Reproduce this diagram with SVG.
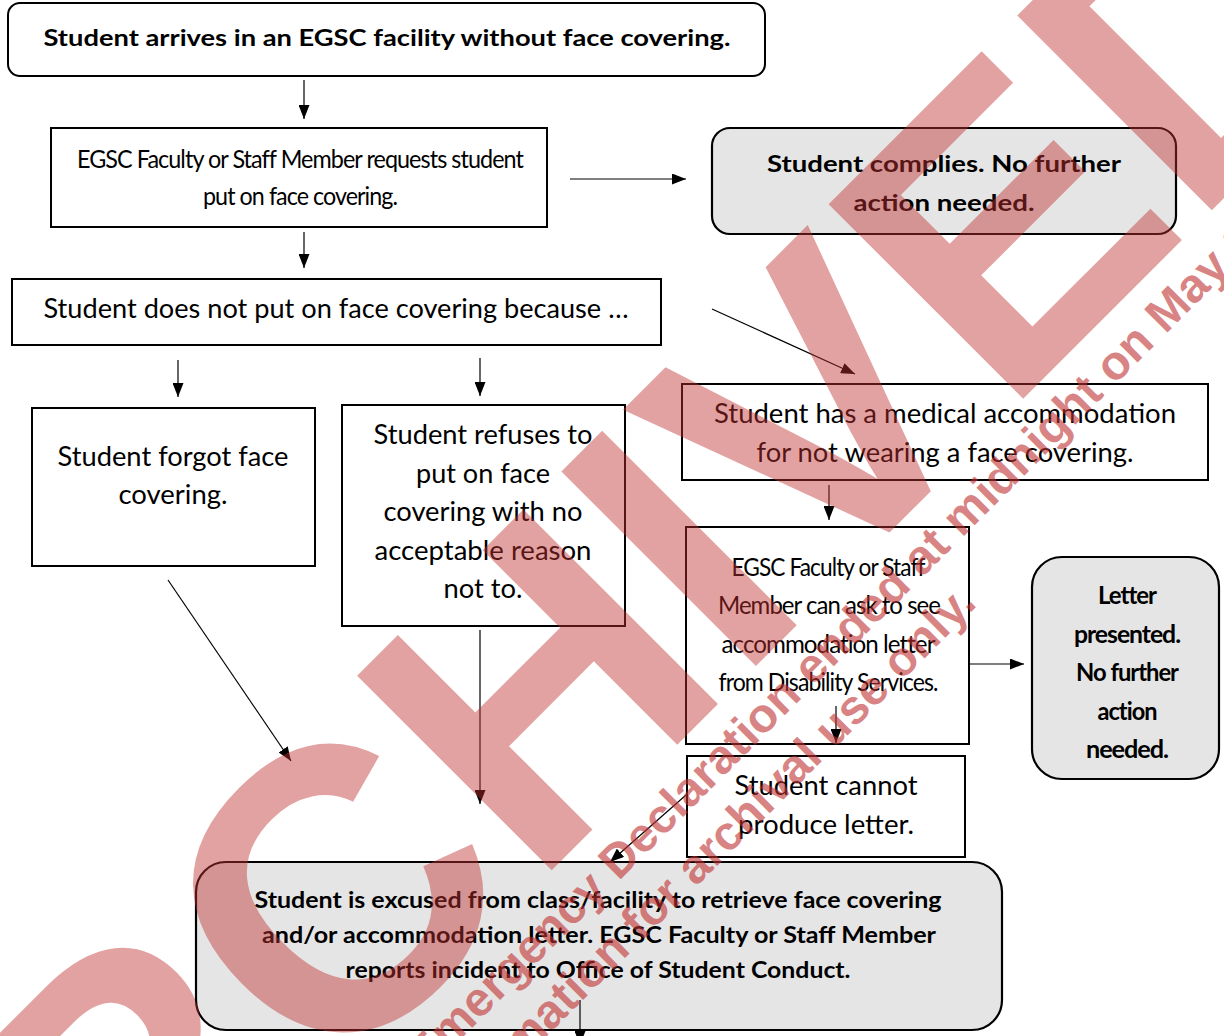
<svg xmlns="http://www.w3.org/2000/svg" width="1224" height="1036" viewBox="0 0 1224 1036">
<style>
.box{fill:#fff;stroke:#000;stroke-width:2}
.gray{fill:#e5e5e5;stroke:#000;stroke-width:2.2}
.t{font-family:Lato,"Liberation Sans",sans-serif;font-size:26px;fill:#000;text-anchor:middle}
.b{font-family:Lato,"Liberation Sans",sans-serif;font-size:23px;font-weight:bold;fill:#000;text-anchor:middle}
.c{font-family:Lato,"Liberation Sans",sans-serif;font-size:25px;fill:#000;text-anchor:middle;letter-spacing:-1px}
.cb{font-family:Lato,"Liberation Sans",sans-serif;font-size:24px;font-weight:bold;fill:#000;text-anchor:middle;letter-spacing:-1px}
.conn line{stroke:#000;stroke-width:1.2;marker-end:url(#ah)}
.wm{font-family:"Liberation Sans",Arial,sans-serif;font-weight:bold;fill:#c03030}
</style>
<defs>
<marker id="ah" viewBox="0 0 14 11" refX="14" refY="5.5" markerWidth="14" markerHeight="11" markerUnits="userSpaceOnUse" orient="auto">
<path d="M0,0 L14,5.5 L0,11 z" fill="#000"/>
</marker>
</defs>
<rect width="1224" height="1036" fill="#fff"/>

<g id="n-arrives">
<rect class="box" x="8" y="3" width="757" height="73" rx="12"/>
<text class="b" x="387" y="46" textLength="687" lengthAdjust="spacingAndGlyphs">Student arrives in an EGSC facility without face covering.</text>
</g>
<g id="n-request">
<rect class="box" x="51" y="128" width="496" height="99"/>
<text class="c" x="300" y="168" textLength="446" lengthAdjust="spacingAndGlyphs">EGSC Faculty or Staff Member requests student</text>
<text class="c" x="300" y="205" textLength="194" lengthAdjust="spacingAndGlyphs">put on face covering.</text>
</g>
<g id="n-complies">
<rect class="gray" x="712" y="128" width="464" height="106" rx="18"/>
<text class="b" x="944" y="172" textLength="354" lengthAdjust="spacingAndGlyphs">Student complies. No further</text>
<text class="b" x="944" y="211" textLength="181" lengthAdjust="spacingAndGlyphs">action needed.</text>
</g>
<g id="n-doesnot">
<rect class="box" x="12" y="279" width="649" height="66"/>
<text class="t" x="336" y="318" textLength="585" lengthAdjust="spacingAndGlyphs">Student does not put on face covering because …</text>
</g>
<g id="n-forgot">
<rect class="box" x="32" y="408" width="283" height="158"/>
<text class="t" x="173" y="466" textLength="231" lengthAdjust="spacingAndGlyphs">Student forgot face</text>
<text class="t" x="173" y="504" textLength="109" lengthAdjust="spacingAndGlyphs">covering.</text>
</g>
<g id="n-refuses">
<rect class="box" x="342" y="405" width="283" height="221"/>
<text class="t" x="483" y="444" textLength="219" lengthAdjust="spacingAndGlyphs">Student refuses to</text>
<text class="t" x="483" y="483" textLength="134" lengthAdjust="spacingAndGlyphs">put on face</text>
<text class="t" x="483" y="521" textLength="199" lengthAdjust="spacingAndGlyphs">covering with no</text>
<text class="t" x="483" y="560" textLength="217" lengthAdjust="spacingAndGlyphs">acceptable reason</text>
<text class="t" x="483" y="598" textLength="79" lengthAdjust="spacingAndGlyphs">not to.</text>
</g>
<g id="n-medical">
<rect class="box" x="682" y="384" width="526" height="96"/>
<text class="t" x="945" y="423" textLength="462" lengthAdjust="spacingAndGlyphs">Student has a medical accommodation</text>
<text class="t" x="945" y="462" textLength="377" lengthAdjust="spacingAndGlyphs">for not wearing a face covering.</text>
</g>
<g id="n-askletter">
<rect class="box" x="686" y="527" width="283" height="217"/>
<text class="c" x="828" y="576" textLength="193" lengthAdjust="spacingAndGlyphs">EGSC Faculty or Staff</text>
<text class="c" x="829" y="614" textLength="222" lengthAdjust="spacingAndGlyphs">Member can ask to see</text>
<text class="c" x="828" y="653" textLength="213" lengthAdjust="spacingAndGlyphs">accommodation letter</text>
<text class="c" x="828" y="691" textLength="219" lengthAdjust="spacingAndGlyphs">from Disability Services.</text>
</g>
<g id="n-presented">
<rect class="gray" x="1032" y="557" width="187" height="222" rx="30"/>
<text class="cb" x="1127" y="604" textLength="58" lengthAdjust="spacingAndGlyphs">Letter</text>
<text class="cb" x="1127" y="643" textLength="106" lengthAdjust="spacingAndGlyphs">presented.</text>
<text class="cb" x="1127" y="681" textLength="102" lengthAdjust="spacingAndGlyphs">No further</text>
<text class="cb" x="1127" y="720" textLength="59" lengthAdjust="spacingAndGlyphs">action</text>
<text class="cb" x="1127" y="758" textLength="82" lengthAdjust="spacingAndGlyphs">needed.</text>
</g>
<g id="n-cannot">
<rect class="box" x="687" y="756" width="278" height="101"/>
<text class="t" x="826" y="795" textLength="183" lengthAdjust="spacingAndGlyphs">Student cannot</text>
<text class="t" x="826" y="834" textLength="176" lengthAdjust="spacingAndGlyphs">produce letter.</text>
</g>
<g id="n-excused">
<rect class="gray" x="196" y="862" width="806" height="168" rx="30"/>
<text class="b" x="598" y="908" textLength="687" lengthAdjust="spacingAndGlyphs">Student is excused from class/facility to retrieve face covering</text>
<text class="b" x="599" y="943" textLength="674" lengthAdjust="spacingAndGlyphs">and/or accommodation letter. EGSC Faculty or Staff Member</text>
<text class="b" x="598" y="978" textLength="505" lengthAdjust="spacingAndGlyphs">reports incident to Office of Student Conduct.</text>
</g>

<g id="connectors" class="conn">
<line x1="304" y1="80" x2="304" y2="119"/>
<line x1="570" y1="179" x2="686" y2="179"/>
<line x1="304" y1="232" x2="304" y2="268"/>
<line x1="712" y1="309" x2="855" y2="374"/>
<line x1="178" y1="360" x2="178" y2="397"/>
<line x1="480" y1="358" x2="480" y2="396"/>
<line x1="829" y1="485" x2="829" y2="520"/>
<line x1="970" y1="664" x2="1024" y2="664"/>
<line x1="836" y1="706" x2="836" y2="743"/>
<line x1="686" y1="795" x2="610" y2="862"/>
<line x1="168" y1="580" x2="291" y2="761"/>
<line x1="480" y1="630" x2="480" y2="804"/>
<line x1="580" y1="1000" x2="580" y2="1045"/>
</g>

<g id="watermark">
<text class="wm" font-size="400" fill-opacity="0.45" transform="translate(-80,1502) rotate(-45)">ARCHIVED</text>
<text class="wm" font-size="48" fill-opacity="0.6" transform="translate(426,1074) rotate(-45)">Emergency Declaration ended at midnight on May 1</text>
<text class="wm" font-size="48" fill-opacity="0.6" transform="translate(445,1138) rotate(-45)">Information for archival use only.</text>
</g>
</svg>
